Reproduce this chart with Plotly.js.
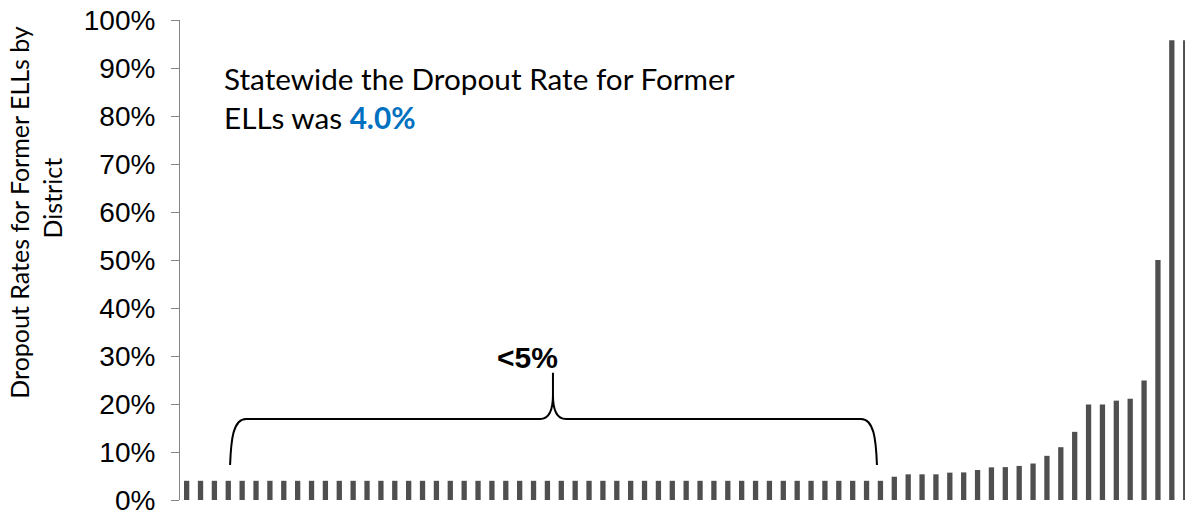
<!DOCTYPE html>
<html>
<head>
<meta charset="utf-8">
<script src="https://cdn.plot.ly/plotly-3.0.1.min.js"></script>
<style>
  html, body { margin: 0; padding: 0; background: #ffffff; }
  #chart { width: 1185px; height: 511px; }
</style>
</head>
<body>
<div id="chart"></div>
<script>
// ---- Data ----
// Dropout rate for former ELLs, one bar per district, sorted ascending
const dropoutRates = [
  0.04, 0.04, 0.04, 0.04, 0.04, 0.04, 0.04, 0.04, 0.04, 0.04,
  0.04, 0.04, 0.04, 0.04, 0.04, 0.04, 0.04, 0.04, 0.04, 0.04,
  0.04, 0.04, 0.04, 0.04, 0.04, 0.04, 0.04, 0.04, 0.04, 0.04,
  0.04, 0.04, 0.04, 0.04, 0.04, 0.04, 0.04, 0.04, 0.04, 0.04,
  0.04, 0.04, 0.04, 0.04, 0.04, 0.04, 0.04, 0.04, 0.04, 0.04,
  0.04,
  0.0485, 0.0535, 0.0535, 0.0535, 0.057, 0.0575, 0.0625, 0.068, 0.0685, 0.071,
  0.076, 0.092, 0.110, 0.142, 0.199, 0.199, 0.207, 0.211, 0.249, 0.50,
  0.958, 0.958
];
// District labels (not shown on the axis in the original)
const districts = dropoutRates.map((_, i) => 'District ' + (i + 1));
const yTickValues = [0, 0.1, 0.2, 0.3, 0.4, 0.5, 0.6, 0.7, 0.8, 0.9, 1.0];
const yAxisTitleLines = ['Dropout Rates for Former ELLs by', 'District'];
const statewideRate = '4.0%';
const braceLabel = '<5%';

// Brace spans the "<5%" group (category positions)
const braceStart = 3.13, braceEnd = 49.75, braceMid = 26.4;
const braceFoot = 0.073, braceBar = 0.169, braceTip = 0.265;

function bracePath() {
  const a = braceStart, b = braceEnd, m = braceMid;
  const f = braceFoot, h = braceBar, t = braceTip;
  return [
    'M', a, f,
    'C', a + 0.07, 0.125, a + 0.21, h, a + 1.15, h,
    'L', m - 0.93, h,
    'C', m - 0.2, h, m, 0.19, m, 0.219,
    'L', m, t,
    'L', m, 0.219,
    'C', m, 0.19, m + 0.2, h, m + 0.93, h,
    'L', b - 1.15, h,
    'C', b - 0.21, h, b - 0.07, 0.125, b, f
  ].join(' ');
}

const trace = {
  type: 'bar',
  x: districts,
  y: dropoutRates,
  marker: { color: '#4f4f4f', line: { width: 0 } },
  hoverinfo: 'x+y'
};

const titleFont = { family: 'Lato, Carlito, Calibri, sans-serif', size: 25, color: '#000000' };

const layout = {
  width: 1185,
  height: 511,
  margin: { l: 180, r: 0, t: 20, b: 11, pad: 0 },
  paper_bgcolor: '#ffffff',
  plot_bgcolor: '#ffffff',
  showlegend: false,
  bargap: 0.618,
  font: { family: 'Liberation Sans, Arial, sans-serif', color: '#000000' },
  xaxis: {
    type: 'category',
    range: [-0.479, 71.95],
    showticklabels: false,
    showgrid: false,
    zeroline: false,
    showline: false,
    ticks: '',
    fixedrange: true
  },
  yaxis: {
    range: [0, 1],
    tickvals: yTickValues,
    tickformat: '.0%',
    showgrid: false,
    zeroline: false,
    showline: true,
    linecolor: '#868686',
    linewidth: 1,
    ticks: 'outside',
    ticklen: 8,
    tickcolor: '#868686',
    tickwidth: 1,
    ticklabelstandoff: 10,
    ticklabeloverflow: 'allow',
    tickfont: { family: 'Liberation Sans, Arial, sans-serif', size: 28, color: '#000000' },
    automargin: false,
    fixedrange: true
  },
  shapes: [
    {
      type: 'path',
      xref: 'x', yref: 'y',
      path: bracePath(),
      line: { color: '#000000', width: 2 },
      fillcolor: 'rgba(0,0,0,0)'
    }
  ],
  annotations: [
    // y-axis title, line 1
    {
      xref: 'paper', yref: 'paper',
      x: -0.160, y: 0.599,
      xanchor: 'center', yanchor: 'middle',
      textangle: -90,
      showarrow: false,
      text: yAxisTitleLines[0],
      font: titleFont
    },
    // y-axis title, line 2
    {
      xref: 'paper', yref: 'paper',
      x: -0.127, y: 0.629,
      xanchor: 'center', yanchor: 'middle',
      textangle: -90,
      showarrow: false,
      text: yAxisTitleLines[1],
      font: titleFont
    },
    {
      xref: 'paper', yref: 'paper',
      x: 0.0418, y: 0.919,
      xanchor: 'left', yanchor: 'top',
      align: 'left',
      showarrow: false,
      text: 'Statewide the Dropout Rate for Former<br>ELLs was <b><span style="color:#0070C0">' + statewideRate + '</span></b>',
      font: { family: 'Lato, Carlito, Calibri, sans-serif', size: 29.7, color: '#000000' }
    },
    {
      xref: 'x', yref: 'y',
      x: 24.6, y: 0.259,
      xanchor: 'center', yanchor: 'bottom',
      showarrow: false,
      text: '<b>' + braceLabel.replace('<', '&lt;') + '</b>',
      font: { family: 'Liberation Sans, Arial, sans-serif', size: 30, color: '#000000' }
    }
  ]
};

Plotly.newPlot('chart', [trace], layout, { displayModeBar: false, staticPlot: true });
</script>
</body>
</html>
